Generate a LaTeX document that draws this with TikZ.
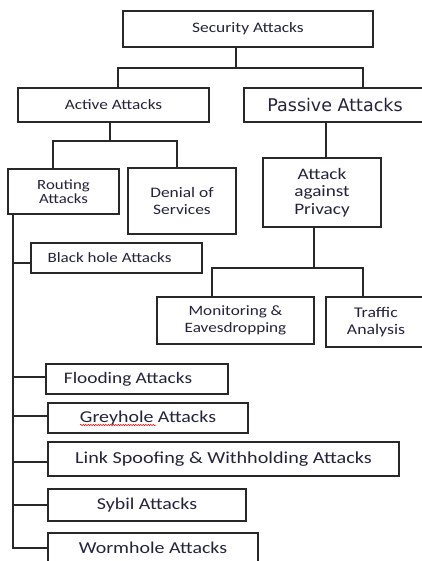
\documentclass[tikz,border=0pt]{standalone}
\usepackage{fontspec}
\setmainfont{Carlito}[FakeStretch=1.2]
\newfontfamily\pasfont{DejaVu Sans}
\usetikzlibrary{positioning}
\usetikzlibrary{decorations.pathmorphing}
\definecolor{txtc}{RGB}{35,35,60}
\definecolor{linec}{RGB}{40,40,40}
\newcommand{\boxfs}[1]{\fontsize{#1}{17.5}\selectfont}
\tikzset{
  box/.style={draw=linec, line width=1.2pt, fill=white, inner sep=0pt, align=center, text=txtc},
  wire/.style={draw=linec, line width=1.2pt},
  lbl/.style={text=txtc, inner sep=0pt}
}
\begin{document}
\begin{tikzpicture}[x=1pt,y=1pt,yscale=-1,xscale=1]
                  \useasboundingbox (0,0) rectangle (422,561);
                  \clip (0,0) rectangle (422,561);

                  % Box: top
                  \node [box, minimum width=250, minimum height=36, font=\boxfs{14.5}] (sec) at (248,29) {Security Attacks};
                  % Box: second row
                  \node [box, minimum width=191, minimum height=34, font=\boxfs{14.4}] (act) at (113.5,105) {Active Attacks};
                  \node [box, minimum width=182, minimum height=34, font=\pasfont\fontsize{17.5}{20}\selectfont] (pas) at (335,105) {Passive Attacks};
                  % Box: third row
                  \node [box, minimum width=111, minimum height=45, font=\fontsize{14}{14.5}\selectfont] (rout) at (63.5,191.5) {Routing\\Attacks};
                  \node [box, minimum width=108, minimum height=66, font=\boxfs{14.5}] (den) at (182,201) {Denial of\\Services};
                  \node [box, minimum width=118, minimum height=69, font=\boxfs{16}] (priv) at (322,192.5) {Attack\\against\\Privacy};
                  % Box: privacy leaves
                  \node [box, minimum width=157, minimum height=47, font=\boxfs{14.3}] (mon) at (235.5,320.5) {Monitoring \&\\Eavesdropping};
                  \node [box, minimum width=100, minimum height=50, font=\boxfs{14.8}] (traf) at (376,322) {Traffic\\Analysis};
                  % Box: routing leaves
                  \node [box, minimum width=171, minimum height=30, label={[lbl, xshift=-7pt, font=\boxfs{14.2}]center:Black hole Attacks}] (blk) at (116.5,258) {};
                  \node [box, minimum width=182, minimum height=30, label={[lbl, xshift=-9pt, font=\boxfs{16.1}]center:Flooding Attacks}] (flo) at (137,379) {};
                  \node [box, minimum width=200, minimum height=30, font=\boxfs{16.6}] (gre) at (148,418) {Greyhole Attacks};
                  \node [box, minimum width=351, minimum height=34, font=\boxfs{16.8}] (lnk) at (223.5,459) {Link Spoofing \& Withholding Attacks};
                  \node [box, minimum width=198, minimum height=32, font=\boxfs{16.6}] (syb) at (147,505) {Sybil Attacks};
                  \node [box, minimum width=210, minimum height=30, font=\boxfs{16.6}] (wor) at (153,548) {Wormhole Attacks};

                  % spell check mark
                  \draw [red, line width=0.5pt, decorate, decoration={snake, amplitude=0.7pt, segment length=2.5pt}] (80,425) -- (156,425);

                  % Bus points
                  \coordinate (b1) at (236,68);
                  \coordinate (b1l) at (118,68);
                  \coordinate (b1r) at (363,68);
                  \coordinate (b2) at (110,141);
                  \coordinate (b2l) at (53,141);
                  \coordinate (b2r) at (177,141);
                  \coordinate (b3) at (326,140);
                  \coordinate (b4) at (314,268);
                  \coordinate (b4l) at (212,268);
                  \coordinate (b4r) at (363,268);
                  \coordinate (sp) at (13,300);

                  % Lines
                  \draw [wire] (sec.south -| b1) -- (b1);
                  \draw [wire] (act.north -| b1l) -- (b1l) -- (b1r) -- (pas.north -| b1r);
                  \draw [wire] (act.south -| b2) -- (b2);
                  \draw [wire] (rout.north -| b2l) -- (b2l) -- (b2r) -- (den.north -| b2r);
                  \draw [wire] (pas.south -| b3) -- (priv.north -| b3);
                  \draw [wire] (priv.south -| b4) -- (b4);
                  \draw [wire] (mon.north -| b4l) -- (b4l) -- (b4r) -- (traf.north -| b4r);
                  \draw [wire] (rout.south -| sp) |- (wor.west);
                  \draw [wire] ([yshift=5pt]blk.west -| sp) -- ([yshift=5pt]blk.west);
                  \draw [wire] ([yshift=-2pt]flo.west -| sp) -- ([yshift=-2pt]flo.west);
                  \draw [wire] ([yshift=-2pt]gre.west -| sp) -- ([yshift=-2pt]gre.west);
                  \draw [wire] ([yshift=3pt]lnk.west -| sp) -- ([yshift=3pt]lnk.west);
                  \draw [wire] (syb.west -| sp) -- (syb.west);

\end{tikzpicture}
\end{document}
